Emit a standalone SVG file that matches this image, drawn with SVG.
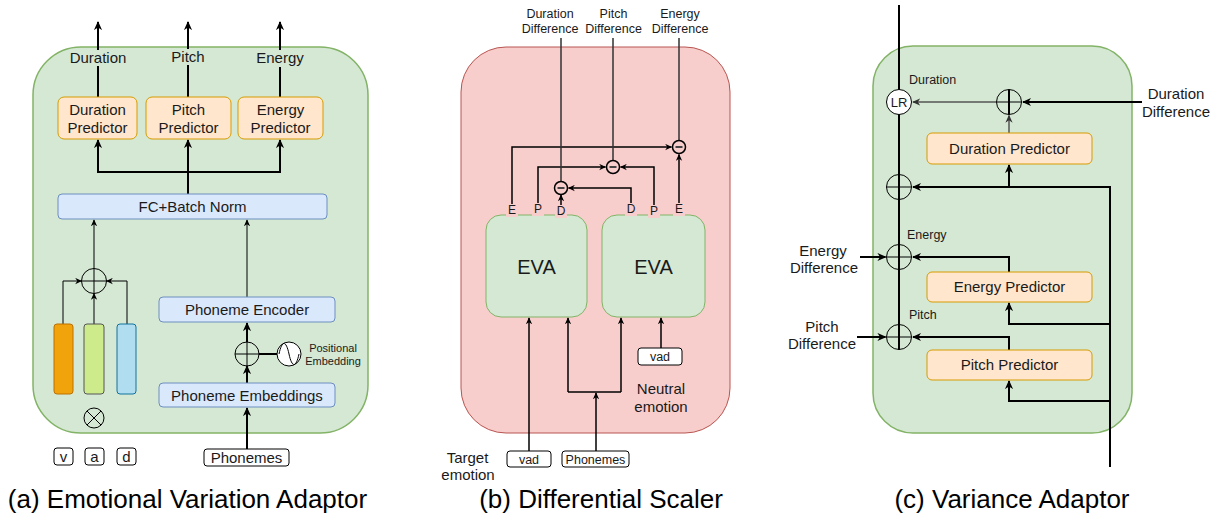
<svg xmlns="http://www.w3.org/2000/svg" width="1220" height="515" viewBox="0 0 1220 515">
<defs>
<style>
text{font-family:"Liberation Sans",Arial,sans-serif;fill:#1a1a1a}
.t15{font-size:15px}
.t12{font-size:12.5px}
.t11{font-size:11px}
.cap{font-size:26px;fill:#000}
.mid{text-anchor:middle}
.w2{fill:none;stroke:#000;stroke-width:2}
.w1{fill:none;stroke:#000;stroke-width:1}
.w15{fill:none;stroke:#000;stroke-width:1.5}
.g15{fill:none;stroke:#555;stroke-width:1.5}
.pred{fill:#ffe6cc;stroke:#d79b00;stroke-width:1}
.blue{fill:#dae8fc;stroke:#6c8ebf;stroke-width:1}
.green{fill:#d5e8d4;stroke:#82b366;stroke-width:1.5}
.pink{fill:#f8cecc;stroke:#b85450;stroke-width:1}
.inbox{fill:#fff;stroke:#000;stroke-width:1}
.circ{fill:none;stroke:#000;stroke-width:1}
</style>
<marker id="ah" viewBox="0 0 10 10" refX="9" refY="5" markerWidth="9" markerHeight="9" orient="auto" markerUnits="userSpaceOnUse"><path d="M0,0.5 L10,5 L0,9.5 L3,5 Z" fill="#000"/></marker>
<marker id="as" viewBox="0 0 10 10" refX="9" refY="5" markerWidth="7" markerHeight="7" orient="auto" markerUnits="userSpaceOnUse"><path d="M0,0.5 L10,5 L0,9.5 L3,5 Z" fill="#000"/></marker>
<marker id="ag" viewBox="0 0 10 10" refX="9" refY="5" markerWidth="8" markerHeight="8" orient="auto" markerUnits="userSpaceOnUse"><path d="M0,0.5 L10,5 L0,9.5 L3,5 Z" fill="#333"/></marker>
</defs>
<rect width="1220" height="515" fill="#fff"/>

<!-- ================= Panel (a) ================= -->
<g id="eva-container"><rect x="33" y="47" width="335" height="386" rx="48" class="green"/></g>

<g id="connectors-a">
<path class="w2" d="M98,97 L98,22" marker-end="url(#ah)"/>
<path class="w2" d="M188,97 L188,22" marker-end="url(#ah)"/>
<path class="w2" d="M280,97 L280,22" marker-end="url(#ah)"/>
<path class="w2" d="M188,194 L188,140" marker-end="url(#ah)"/>
<path class="w2" d="M188,172 L98,172 L98,140" marker-end="url(#ah)"/>
<path class="w2" d="M188,172 L280,172 L280,140" marker-end="url(#ah)"/>
<path class="w1" d="M94,268.5 L94,220" marker-end="url(#as)"/>
<path class="w1" d="M247,297 L247,220" marker-end="url(#as)"/>
<path class="w1" d="M63,324 L63,281 L81.5,281" marker-end="url(#as)"/>
<path class="w1" d="M94,324 L94,293.5" marker-end="url(#as)"/>
<path class="w1" d="M127,324 L127,281 L106.5,281" marker-end="url(#as)"/>
<path class="w2" d="M247,383 L247,366" marker-end="url(#ah)"/>
<path class="w2" d="M247,342 L247,323" marker-end="url(#ah)"/>
<path class="w2" d="M259,354 L277,354"/>
<path class="w2" d="M247,449 L247,408" marker-end="url(#ah)"/>
</g>

<g id="out-labels-a">
<rect x="68" y="50" width="60" height="16" fill="#d5e8d4"/>
<text x="98" y="63" class="t15 mid">Duration</text>
<rect x="170" y="49" width="36" height="16" fill="#d5e8d4"/>
<text x="188" y="62" class="t15 mid">Pitch</text>
<rect x="255" y="50" width="50" height="17" fill="#d5e8d4"/>
<text x="280" y="63" class="t15 mid">Energy</text>
</g>

<g id="duration-predictor-a"><rect x="58" y="97" width="79" height="42" rx="6" class="pred"/><text x="97.5" y="115" class="t15 mid">Duration</text><text x="97.5" y="133" class="t15 mid">Predictor</text></g>
<g id="pitch-predictor-a"><rect x="146" y="97" width="85" height="42" rx="6" class="pred"/><text x="188.5" y="115" class="t15 mid">Pitch</text><text x="188.5" y="133" class="t15 mid">Predictor</text></g>
<g id="energy-predictor-a"><rect x="238" y="97" width="85" height="42" rx="6" class="pred"/><text x="280.5" y="115" class="t15 mid">Energy</text><text x="280.5" y="133" class="t15 mid">Predictor</text></g>
<g id="fc-batchnorm"><rect x="58" y="194" width="269" height="25" rx="4" class="blue"/><text x="192.5" y="212" class="t15 mid">FC+Batch Norm</text></g>

<g id="sum-vad"><circle cx="94" cy="281" r="12.5" class="circ"/><path class="w1" d="M81.5,281 L106.5,281 M94,268.5 L94,293.5"/></g>
<g id="bar-v"><rect x="54" y="324" width="19" height="70" rx="3" fill="#f0a30a" stroke="#bd7000"/></g>
<g id="bar-a"><rect x="84" y="324" width="20" height="70" rx="3" fill="#cdeb8b" stroke="#555"/></g>
<g id="bar-d"><rect x="117" y="324" width="19" height="70" rx="3" fill="#b1ddf0" stroke="#10739e"/></g>
<g id="mult"><circle cx="94" cy="418" r="10" class="circ"/><path class="w1" d="M87,411 L101,425 M101,411 L87,425"/></g>
<g id="box-v"><rect x="54" y="448" width="19" height="17" rx="3" class="inbox"/><text x="63.5" y="462" class="t15 mid">v</text></g>
<g id="box-a"><rect x="85" y="448" width="19" height="17" rx="3" class="inbox"/><text x="94.5" y="462" class="t15 mid">a</text></g>
<g id="box-d"><rect x="117" y="448" width="19" height="17" rx="3" class="inbox"/><text x="126.5" y="462" class="t15 mid">d</text></g>

<g id="phoneme-encoder"><rect x="159" y="297" width="176" height="25" rx="4" class="blue"/><text x="247" y="315" class="t15 mid">Phoneme Encoder</text></g>
<g id="sum-pos"><circle cx="247" cy="354" r="12" class="circ"/><path class="w1" d="M235,354 L259,354 M247,342 L247,366"/></g>
<g id="pos-emb"><circle cx="289" cy="354" r="12" fill="#fff" stroke="#000"/><path class="w1" d="M279,354 C282,340 286,340 289,354 C292,368 296,368 299,354"/>
<text x="333" y="352" class="t11 mid">Positional</text><text x="333" y="365" class="t11 mid">Embedding</text></g>
<g id="phoneme-embeddings"><rect x="159" y="383" width="176" height="24" rx="4" class="blue"/><text x="247" y="400.5" class="t15 mid">Phoneme Embeddings</text></g>
<g id="phonemes-a"><rect x="204" y="449" width="85" height="17" rx="3" class="inbox"/><text x="246.5" y="463" class="t15 mid">Phonemes</text></g>

<text x="187.5" y="508" class="cap mid">(a) Emotional Variation Adaptor</text>

<!-- ================= Panel (b) ================= -->
<g id="ds-container"><rect x="461" y="47" width="269" height="386" rx="45" class="pink"/></g>
<g id="eva-target"><rect x="486" y="215" width="101" height="102" rx="15" fill="#d5e8d4" stroke="#82b366"/><text x="536.5" y="274" font-size="20" class="mid">EVA</text></g>
<g id="eva-neutral"><rect x="602" y="215" width="103" height="102" rx="15" fill="#d5e8d4" stroke="#82b366"/><text x="653.5" y="274" font-size="20" class="mid">EVA</text></g>

<g id="ports">
<rect x="506" y="204" width="12" height="13" fill="#f8cecc"/><text x="512" y="214" font-size="12" class="mid">E</text>
<rect x="532" y="203" width="12" height="13" fill="#f8cecc"/><text x="538" y="213" font-size="12" class="mid">P</text>
<rect x="555" y="205" width="12" height="13" fill="#f8cecc"/><text x="561" y="215" font-size="12" class="mid">D</text>
<rect x="625" y="203" width="12" height="13" fill="#f8cecc"/><text x="631" y="213" font-size="12" class="mid">D</text>
<rect x="648" y="205" width="12" height="13" fill="#f8cecc"/><text x="654" y="215" font-size="12" class="mid">P</text>
<rect x="673" y="203" width="12" height="13" fill="#f8cecc"/><text x="679" y="213" font-size="12" class="mid">E</text>
</g>

<g id="connectors-b">
<path class="w15" d="M512,204 L512,147 L671.5,147" marker-end="url(#as)"/>
<path class="w15" d="M538,203 L538,167 L605.5,167" marker-end="url(#as)"/>
<path class="w15" d="M561,205 L561,195" marker-end="url(#as)"/>
<path class="w15" d="M631,203 L631,188 L568.5,188" marker-end="url(#as)"/>
<path class="w15" d="M654,205 L654,167 L620.5,167" marker-end="url(#as)"/>
<path class="w15" d="M679,203 L679,154.5" marker-end="url(#as)"/>
<path fill="none" stroke="#333" stroke-width="1.5" d="M561,181 L561,38 M613,160 L613,38 M679,140 L679,38"/>
<path class="w15" d="M529,451 L529,318" marker-end="url(#as)"/>
<path class="w15" d="M596,451 L596,393" marker-end="url(#as)"/>
<path class="w15" d="M568,392 L621,392"/>
<path class="w15" d="M568,392 L568,318" marker-end="url(#as)"/>
<path class="w15" d="M621,392 L621,318" marker-end="url(#as)"/>
<path class="w15" d="M661,348 L661,318" marker-end="url(#as)"/>
</g>

<g id="minus-duration"><circle cx="561" cy="188" r="6.5" fill="#f8cecc" stroke="#000" stroke-width="1.5"/><rect x="557.5" y="187" width="7" height="2" fill="#444"/></g>
<g id="minus-pitch"><circle cx="613" cy="167" r="6.5" fill="#f8cecc" stroke="#000" stroke-width="1.5"/><rect x="609.5" y="166" width="7" height="2" fill="#444"/></g>
<g id="minus-energy"><circle cx="679" cy="147" r="6.5" fill="#f8cecc" stroke="#000" stroke-width="1.5"/><rect x="675.5" y="146" width="7" height="2" fill="#444"/></g>

<g id="labels-b-top">
<text x="550" y="18" class="t12 mid">Duration</text><text x="550" y="33" class="t12 mid">Difference</text>
<text x="613.5" y="18" class="t12 mid">Pitch</text><text x="613.5" y="33" class="t12 mid">Difference</text>
<text x="680" y="18" class="t12 mid">Energy</text><text x="680" y="33" class="t12 mid">Difference</text>
</g>
<g id="vad-neutral"><rect x="638" y="348" width="44" height="17" rx="3" class="inbox"/><text x="660" y="361" class="t12 mid">vad</text></g>
<text x="661" y="394" class="t15 mid">Neutral</text><text x="661" y="412" class="t15 mid">emotion</text>
<g id="vad-target"><rect x="507" y="451" width="44" height="16" rx="3" class="inbox"/><text x="529" y="463.5" class="t12 mid">vad</text></g>
<g id="phonemes-b"><rect x="562" y="451" width="67" height="16" rx="3" class="inbox"/><text x="595.5" y="463.5" class="t12 mid">Phonemes</text></g>
<text x="467.5" y="463" class="t15 mid">Target</text><text x="468" y="480" class="t15 mid">emotion</text>

<text x="601" y="508" class="cap mid">(b) Differential Scaler</text>

<!-- ================= Panel (c) ================= -->
<g id="va-container"><rect x="873" y="46" width="259" height="387" rx="40" class="green"/></g>

<g id="connectors-c">
<path class="w2" d="M899,5 L899,350"/>
<path class="w2" d="M1110,467 L1110,187 L913,187" marker-end="url(#ah)"/>
<path class="w2" d="M1009,187 L1009,165" marker-end="url(#ah)"/>
<path class="g15" d="M1009,133 L1009,115.5" marker-end="url(#ag)"/>
<path class="w2" d="M1142,102 L1023,102" marker-end="url(#ah)"/>
<path class="g15" d="M996,102 L913,102" marker-end="url(#ag)"/>
<path class="w2" d="M1009,272 L1009,257 L913,257" marker-end="url(#ah)"/>
<path class="w2" d="M1110,324 L1009,324 L1009,303" marker-end="url(#ah)"/>
<path class="w2" d="M1009,350 L1009,337 L913,337" marker-end="url(#ah)"/>
<path class="w2" d="M1110,401 L1009,401 L1009,381" marker-end="url(#ah)"/>
<path class="w2" d="M860,257 L885.5,257" marker-end="url(#ah)"/>
<path class="w2" d="M857,337 L885.5,337" marker-end="url(#ah)"/>
</g>

<g id="lr"><circle cx="899" cy="102" r="12.5" fill="#fff" stroke="#000" stroke-width="1"/><text x="899" y="107" font-size="13" class="mid">LR</text></g>
<g id="sum-dur-diff"><circle cx="1009" cy="102" r="12.5" class="circ"/><path class="w1" d="M996.5,102 L1021.5,102"/><path stroke="#000" stroke-width="2" d="M1009,89.5 L1009,114.5"/></g>
<g id="sum-dur"><circle cx="899" cy="187" r="12.5" class="circ"/><path class="w1" d="M886.5,187 L911.5,187"/></g>
<g id="sum-energy"><circle cx="899" cy="257" r="12.5" class="circ"/><path class="w1" d="M886.5,257 L911.5,257"/></g>
<g id="sum-pitch"><circle cx="899" cy="337" r="12.5" class="circ"/><path class="w1" d="M886.5,337 L911.5,337"/></g>

<g id="duration-predictor-c"><rect x="927" y="133" width="165" height="31" rx="5" class="pred"/><text x="1009.5" y="154" class="t15 mid">Duration Predictor</text></g>
<g id="energy-predictor-c"><rect x="927" y="272" width="165" height="30" rx="5" class="pred"/><text x="1009.5" y="292" class="t15 mid">Energy Predictor</text></g>
<g id="pitch-predictor-c"><rect x="927" y="350" width="165" height="30" rx="5" class="pred"/><text x="1009.5" y="370" class="t15 mid">Pitch Predictor</text></g>

<text x="909" y="84" class="t12">Duration</text>
<text x="907" y="239" class="t12">Energy</text>
<text x="909" y="319" class="t12">Pitch</text>
<text x="1176" y="99" class="t15 mid">Duration</text><text x="1176" y="117" class="t15 mid">Difference</text>
<text x="823" y="256" class="t15 mid">Energy</text><text x="824" y="273" class="t15 mid">Difference</text>
<text x="822" y="332" class="t15 mid">Pitch</text><text x="822" y="349" class="t15 mid">Difference</text>

<text x="1012" y="508" class="cap mid">(c) Variance Adaptor</text>
</svg>
